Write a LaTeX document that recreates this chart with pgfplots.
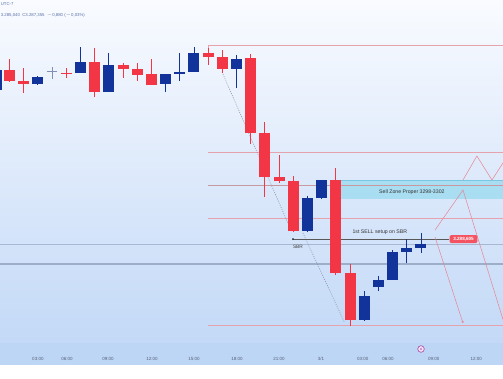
\documentclass[border=0pt]{standalone}
\usepackage{pgfplots}
\pgfplotsset{compat=1.18}
\usepackage{pgfplotstable}
\usepackage{fontspec}
\setmainfont{Liberation Sans}
\usetikzlibrary{arrows.meta}
\definecolor{cR}{HTML}{F23645}
\definecolor{cB}{HTML}{12349A}
\definecolor{cD}{HTML}{7F8FB5}
\definecolor{bgtop}{HTML}{F9FBFF}
\definecolor{bgbot}{HTML}{C3D9F7}
\definecolor{band}{HTML}{BDD6F5}
\definecolor{hl}{HTML}{E6A3AD}
\definecolor{gl}{HTML}{A8B8D2}
\definecolor{gl2}{HTML}{9DAFC8}
\definecolor{zone}{HTML}{A9DDF1}
\definecolor{zoneb}{HTML}{78C8E4}
\definecolor{zig}{HTML}{E68592}
\definecolor{tk}{HTML}{56617A}
\definecolor{hd}{HTML}{5A70A6}
\definecolor{dotc}{HTML}{8C97AC}

\pgfplotstableread{
x O H L C
0 3327.47 3330.00 3324.71 3325.01
1 3325.01 3327.93 3322.18 3324.32
4 3326.89 3327.93 3325.63 3326.78
6 3329.31 3332.53 3321.26 3322.41
8 3328.62 3329.08 3325.63 3327.70
9 3327.70 3329.08 3324.94 3326.32
10 3326.55 3330.00 3324.02 3324.02
14 3331.38 3332.53 3328.62 3330.46
15 3330.46 3332.07 3326.78 3327.70
17 3330.23 3331.15 3310.46 3312.98
18 3312.98 3315.51 3298.27 3302.87
19 3302.87 3307.93 3301.49 3301.95
20 3301.95 3303.10 3290.22 3290.45
23 3302.18 3304.94 3280.34 3280.80
24 3280.80 3282.87 3268.62 3269.99
}\redc

\pgfplotstableread{
x O H L C
-0.9 3322.87 3329.50 3321.50 3327.47
2 3324.25 3326.09 3324.13 3325.86
5 3326.78 3332.76 3326.78 3329.31
7 3322.41 3331.38 3322.41 3328.62
11 3324.25 3326.55 3322.41 3326.55
12 3326.55 3331.38 3324.94 3327.01
13 3327.01 3332.76 3327.01 3331.38
16 3327.70 3330.92 3323.33 3330.00
21 3290.45 3298.50 3290.22 3298.04
22 3298.04 3302.18 3297.81 3302.18
25 3269.99 3276.66 3269.76 3275.51
26 3277.58 3280.11 3276.66 3279.19
27 3279.19 3286.09 3279.19 3285.63
28 3285.63 3288.62 3283.10 3286.55
29 3286.55 3289.99 3285.40 3287.47
}\bluec

\pgfplotstableread{
x O H L C
3 3327.01 3328.16 3325.40 3327.24
}\dojic

\begin{document}
\begin{tikzpicture}
\useasboundingbox (0,-35pt) rectangle (503pt,343pt);
\shade[top color=bgtop, bottom color=bgbot] (0,0) rectangle (503pt,343pt);
\fill[band] (0,-22pt) rectangle (503pt,0pt);
\fill[white] (0,-35pt) rectangle (503pt,-22pt);
\begin{axis}[
  scale only axis, width=503pt, height=343pt,
  at={(0,0)}, anchor=south west,
  xmin=-0.6695, xmax=34.78, ymin=3264.71, ymax=3343.56,
  clip mode=individual,
  axis line style={draw=none},
  tick style={draw=none},
  major tick length=0pt,
  ytick=\empty,
  xtick={2,4.05,6.94,10.04,13,16.03,19,21.95,24.9,26.67,29.9,32.9},
  xticklabels={03:00,06:00,09:00,12:00,15:00,18:00,21:00,3/1,03:00,06:00,09:00,12:00},
  xticklabel style={anchor=center, yshift=-16pt, font=\fontsize{4.5}{5}\selectfont, text=tk},
]
% horizontal levels
\addplot[hl, line width=0.7pt, forget plot] coordinates {(14,3329.08) (14,3333.21) (34.78,3333.21)};
\addplot[hl, line width=0.7pt, forget plot] coordinates {(14,3308.46) (34.78,3308.46)};
\addplot[hl, line width=0.7pt, forget plot] coordinates {(14,3293.33) (34.78,3293.33)};
\addplot[hl, line width=0.7pt, forget plot] coordinates {(14,3268.69) (34.78,3268.69)};
\addplot[gl, line width=0.6pt, forget plot] coordinates {(-0.67,3287.47) (34.78,3287.47)};
\addplot[gl2, line width=1.4pt, forget plot] coordinates {(-0.67,3282.87) (34.78,3282.87)};
% sell zone
\addplot[fill=zone, draw=none, forget plot] coordinates {(23.3,3297.9) (34.78,3297.9) (34.78,3302.1) (23.3,3302.1)} -- cycle;
\addplot[zoneb, line width=0.7pt, forget plot] coordinates {(23.3,3302.1) (34.78,3302.1)};
\addplot[hl!70!gray, line width=0.7pt, forget plot] coordinates {(14,3300.87) (34.78,3300.87)};
% dotted paths
\addplot[dotc, line width=0.6pt, dash pattern=on 1pt off 1.3pt, forget plot] coordinates {(14.98,3327.01) (19.9,3290.2)};
\addplot[dotc, line width=0.6pt, dash pattern=on 1pt off 1.3pt, forget plot] coordinates {(20.68,3289.99) (23.6,3269.5)};
% 1st sell setup line
\addplot[black!65, line width=0.6pt, forget plot] coordinates {(19.98,3288.60) (31.0,3288.60)};
\addplot[only marks, mark=*, mark size=0.7pt, black!80, forget plot] coordinates {(19.98,3288.60)};
% projection zigzags
\addplot[zig, line width=0.5pt, forget plot] coordinates {(29.99,3290.68) (31.96,3299.88) (34.78,3270.1)};
\addplot[zig, line width=0.5pt, forget plot] coordinates {(31.96,3302.18) (32.94,3307.70) (34.0,3302.18) (34.78,3306.09)};
\addplot[zig, line width=0.5pt, -{To[length=2pt,width=2.5pt]}, forget plot] coordinates {(29.99,3289.08) (31.96,3269.30)};
% candles: wicks
\addplot[draw=none, mark=none, forget plot, error bars/.cd, y dir=plus, y explicit, error mark=none,
  error bar style={draw=cR, line width=0.9pt}]
  table[x=x, y=L, y error expr=\thisrow{H}-\thisrow{L}] {\redc};
\addplot[draw=none, mark=none, forget plot, error bars/.cd, y dir=plus, y explicit, error mark=none,
  error bar style={draw=cB, line width=0.9pt}]
  table[x=x, y=L, y error expr=\thisrow{H}-\thisrow{L}] {\bluec};
\addplot[draw=none, mark=none, forget plot, error bars/.cd, y dir=plus, y explicit, error mark=none,
  error bar style={draw=cD, line width=0.9pt}]
  table[x=x, y=L, y error expr=\thisrow{H}-\thisrow{L}] {\dojic};
% candles: bodies
\addplot[draw=none, mark=none, forget plot, error bars/.cd, y dir=plus, y explicit, error mark=none,
  error bar style={draw=cR, line width=11pt}]
  table[x=x, y expr={min(\thisrow{O},\thisrow{C})}, y error expr={abs(\thisrow{O}-\thisrow{C})}] {\redc};
\addplot[draw=none, mark=none, forget plot, error bars/.cd, y dir=plus, y explicit, error mark=none,
  error bar style={draw=cB, line width=11pt}]
  table[x=x, y expr={min(\thisrow{O},\thisrow{C})}, y error expr={abs(\thisrow{O}-\thisrow{C})}] {\bluec};
\addplot[draw=none, mark=none, forget plot, error bars/.cd, y dir=plus, y explicit, error mark=none,
  error bar style={draw=cD, line width=10pt}]
  table[x=x, y expr={min(\thisrow{O},\thisrow{C})}, y error expr={abs(\thisrow{O}-\thisrow{C})}] {\dojic};
% annotations
\node[font=\fontsize{5.2}{6}\selectfont, text=black!80] at (axis cs:28.36,3299.5) {Sell Zone Proper 3298-3302};
\node[font=\fontsize{5.2}{6}\selectfont, text=black!80] at (axis cs:26.1,3290.25) {1st SELL setup on SBR};
\node[font=\fontsize{4.8}{6}\selectfont, text=black!75] at (axis cs:20.33,3286.75) {SBR};
\node[fill=cR!85!white, rounded corners=1.2pt, inner xsep=3.6pt, inner ysep=2pt, text=white,
  font=\fontsize{4.6}{5}\selectfont\bfseries] at (axis cs:32.0,3288.60) {3.288,605};
\end{axis}
\node[anchor=west, inner sep=0pt, text=hd, font=\fontsize{4.3}{5}\selectfont] at (0.6pt,339.4pt) {UTC-7};
\node[anchor=west, inner sep=0pt, text=hd, font=\fontsize{4.3}{5}\selectfont] at (0.6pt,327.3pt) {3.285,040\ \ C3.287,355\ \ $-$0,880 ($-$0,03\%)};
\draw[draw=violet!70, fill=violet!12, line width=0.6pt] (421pt,-6pt) circle (3.3pt);
\fill[violet!70] (421pt,-6pt) circle (0.8pt);
\end{tikzpicture}
\end{document}
